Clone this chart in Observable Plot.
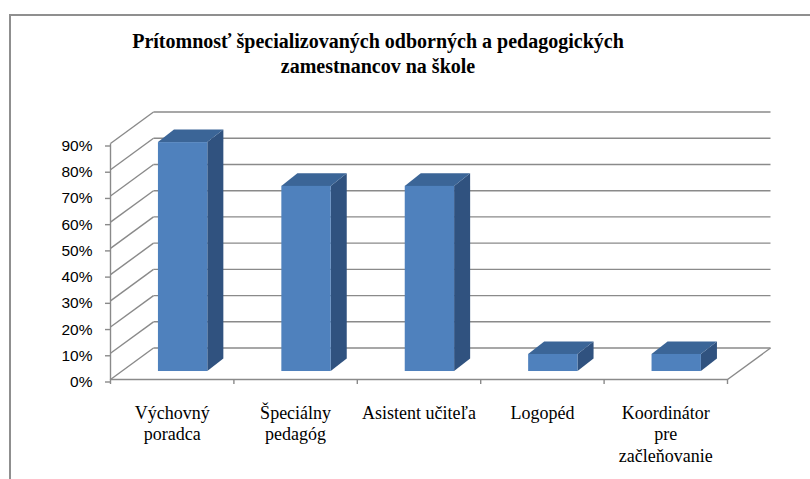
<!DOCTYPE html>
<html>
<head>
<meta charset="utf-8">
<script src="https://cdn.jsdelivr.net/npm/d3@7"></script>
<script src="https://cdn.jsdelivr.net/npm/@observablehq/plot@0.6"></script>
<style>
  html, body { margin: 0; padding: 0; background: #fff; }
  #wrap { position: relative; width: 810px; height: 479px; overflow: hidden; background: #fff; }
  #frame { position: absolute; left: 9px; top: 14px; width: 820px; height: 480px;
           border-left: 2px solid #8f8f8f; border-top: 2px solid #8f8f8f; box-sizing: border-box; }
  #title { position: absolute; left: 378px; top: 29px; transform: translateX(-50%);
           white-space: nowrap; text-align: center;
           font: bold 20px "Liberation Serif", "Times New Roman", serif; line-height: 25px; color: #000; }
  #chart { position: absolute; left: 0; top: 0; }
</style>
</head>
<body>
<div id="wrap">
  <div id="frame"></div>
  <div id="chart"></div>
  <div id="title">Prítomnosť špecializovaných odborných a pedagogických<br>zamestnancov na škole</div>
</div>
<script>
// ---- data ----
const categories = ["Výchovný poradca", "Špeciálny pedagóg", "Asistent učiteľa", "Logopéd", "Koordinátor pre začleňovanie"];
const categoryLabels = ["Výchovný\nporadca", "Špeciálny\npedagóg", "Asistent učiteľa", "Logopéd", "Koordinátor\npre\nzačleňovanie"];
const values = [87.3, 70.6, 70.6, 6.5, 6.5];
const yTicks = [0, 10, 20, 30, 40, 50, 60, 70, 80, 90];
const xTicks = [0, 1, 2, 3, 4, 5];

// ---- 3D oblique geometry (in scale units) ----
const DX = 0.3485;   // depth of the wall/floor along x (band units)
const DY = 12;       // depth along y (percent units)
const fFront = 0.254;               // bar front plane depth fraction
const BX = fFront * DX, BY = fFront * DY;
const bdx = 0.13, bdy = 4.8;        // bar depth
const barW = 0.4;

const rows = categories.map((c, i) => {
  const x1 = i + 0.5 - barW / 2 + BX;
  return { i, c, label: categoryLabels[i], v: values[i], x1, x2: x1 + barW, base: BY, top: BY + values[i] };
});
const sides = rows.flatMap(r => [
  { i: r.i, x: r.x2, y1: r.base, y2: r.top },
  { i: r.i, x: r.x2 + bdx, y1: r.base + bdy, y2: r.top + bdy }
]);
const tops = rows.flatMap(r => [
  { i: r.i, y: r.top, xa: r.x1, xb: r.x2 },
  { i: r.i, y: r.top + bdy, xa: r.x1 + bdx, xb: r.x2 + bdx }
]);

const grid = "#8a8a8a";
const n = categories.length;

const plot = Plot.plot({
  width: 810,
  height: 479,
  marginLeft: 110,
  marginRight: 83,
  marginTop: 143,
  marginBottom: 100,
  style: { fontFamily: "'Liberation Sans', Arial, sans-serif", fontSize: "15px", color: "#000", background: "transparent", overflow: "visible" },
  x: { type: "linear", domain: [0, n], range: [110, 727], axis: null },
  y: { type: "linear", domain: [0, 90], range: [379, 143], axis: null },
  marks: [
    // wall diagonals
    Plot.link(yTicks, { x1: () => 0, y1: d => d, x2: () => DX, y2: d => d + DY, stroke: grid, strokeWidth: 1.4 }),
    // back gridlines
    Plot.link(yTicks, { x1: () => DX, y1: d => d + DY, x2: () => n + DX, y2: d => d + DY, stroke: grid, strokeWidth: 1.4 }),
    // floor right edge
    Plot.link([n], { x1: d => d, y1: () => 0, x2: d => d + DX, y2: () => DY, stroke: grid, strokeWidth: 1.4 }),
    // front floor line
    Plot.link([0], { x1: () => 0, y1: () => 0, x2: () => n, y2: () => 0, stroke: grid, strokeWidth: 1.4 }),
    // y axis line
    Plot.link([0], { x1: () => 0, y1: () => 0, x2: () => 0, y2: () => 90, stroke: grid, strokeWidth: 1.4 }),
    Plot.axisY(yTicks, { tickFormat: d => d + "%", tickSize: 5, tickPadding: 13, stroke: grid, strokeWidth: 1.4, fontSize: 15.5, fill: "#000", dy: 2.5, label: null }),
    Plot.axisX(xTicks, { tickFormat: () => "", tickSize: 5, stroke: grid, strokeWidth: 1.4, label: null }),
    // bars
    Plot.area(sides, { x1: "x", y1: "y1", y2: "y2", z: "i", fill: "#30527f" }),
    Plot.area(tops, { y1: "y", x1: "xa", x2: "xb", z: "i", fill: "#3b6597" }),
    Plot.rect(rows, { x1: "x1", x2: "x2", y1: "base", y2: "top", fill: "#4f81bd" }),
    // category labels
    Plot.text(rows, { x: d => d.i + 0.5, y: () => 0, text: "label", lineAnchor: "top", dy: 24, fontSize: 18,
      fontFamily: "'Liberation Serif', 'Times New Roman', serif", lineHeight: 1.2, fill: "#000" })
  ]
});
document.getElementById("chart").appendChild(plot);
</script>
</body>
</html>
